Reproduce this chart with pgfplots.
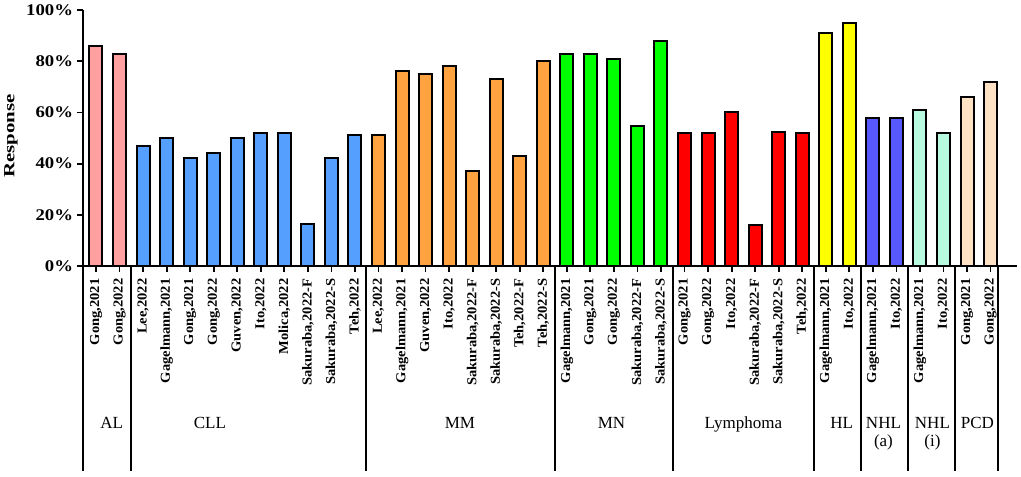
\documentclass[border=0pt]{standalone}
\usepackage{fontspec}
\setmainfont{Liberation Serif}
\newfontfamily\xtickfont[FakeStretch=1.06]{Liberation Serif}
\newfontfamily\ytickfont[FakeStretch=1.15]{Liberation Serif}
\newfontfamily\ylabfont[FakeStretch=1.35]{Liberation Serif}
\usepackage{pgfplots}
\pgfplotsset{compat=1.18}
\definecolor{cAL}{RGB}{255,160,160}
\definecolor{cCLL}{RGB}{85,160,255}
\definecolor{cMM}{RGB}{255,162,64}
\definecolor{cMN}{RGB}{0,255,0}
\definecolor{cLy}{RGB}{255,0,0}
\definecolor{cHL}{RGB}{255,255,0}
\definecolor{cNa}{RGB}{88,88,255}
\definecolor{cNi}{RGB}{184,250,224}
\definecolor{cPCD}{RGB}{255,226,196}
\begin{document}
\begin{tikzpicture}
\useasboundingbox (-82.7pt,-211pt) rectangle (938.3pt,266pt);
\begin{axis}[
  scale only axis,
  width=934pt, height=256pt,
  xmin=-0.565, xmax=39.11,
  ymin=0, ymax=100,
  axis x line=bottom, axis y line=left,
  axis line style={-, line width=2.2pt},
  clip=false,
  ybar,
  bar width=13pt,
  tick align=outside,
  major tick length=5.5pt,
  tick style={line width=1.8pt, black},
  ytick={0,20,40,60,80,100},
  yticklabels={0\%,20\%,40\%,60\%,80\%,100\%},
  yticklabel style={font=\ytickfont\bfseries\fontsize{16.3}{16.3}\selectfont, inner sep=0pt, anchor=east, xshift=-4pt},
  xtick={0,...,38},
  xticklabels={{Gong,2021},{Gong,2022},
    {Lee,2022},{Gagelmann,2021},{Gong,2021},{Gong,2022},{Guven,2022},{Ito,2022},{Molica,2022},{Sakuraba,2022-F},{Sakuraba,2022-S},{Teh,2022},
    {Lee,2022},{Gagelmann,2021},{Guven,2022},{Ito,2022},{Sakuraba,2022-F},{Sakuraba,2022-S},{Teh,2022-F},{Teh,2022-S},
    {Gagelmann,2021},{Gong,2021},{Gong,2022},{Sakuraba,2022-F},{Sakuraba,2022-S},
    {Gong,2021},{Gong,2022},{Ito,2022},{Sakuraba,2022-F},{Sakuraba,2022-S},{Teh,2022},
    {Gagelmann,2021},{Ito,2022},
    {Gagelmann,2021},{Ito,2022},
    {Gagelmann,2021},{Ito,2022},
    {Gong,2021},{Gong,2022}},
  xticklabel style={font=\xtickfont\bfseries\fontsize{13.7}{13.7}\selectfont, rotate=90, anchor=east, inner sep=0pt, xshift=-7pt},
]
\addplot[bar shift=0pt, fill=cAL, draw=black, line width=2pt] coordinates {(0,86) (1,83)};
\addplot[bar shift=0pt, fill=cCLL, draw=black, line width=2pt] coordinates {(2,47) (3,50) (4,42) (5,44) (6,50) (7,52) (8,52) (9,16.5) (10,42) (11,51)};
\addplot[bar shift=0pt, fill=cMM, draw=black, line width=2pt] coordinates {(12,51) (13,76) (14,75) (15,78) (16,37) (17,73) (18,43) (19,80)};
\addplot[bar shift=0pt, fill=cMN, draw=black, line width=2pt] coordinates {(20,83) (21,83) (22,81) (23,54.5) (24,88)};
\addplot[bar shift=0pt, fill=cLy, draw=black, line width=2pt] coordinates {(25,52) (26,52) (27,60) (28,16) (29,52.5) (30,52)};
\addplot[bar shift=0pt, fill=cHL, draw=black, line width=2pt] coordinates {(31,91) (32,95)};
\addplot[bar shift=0pt, fill=cNa, draw=black, line width=2pt] coordinates {(33,58) (34,58)};
\addplot[bar shift=0pt, fill=cNi, draw=black, line width=2pt] coordinates {(35,61) (36,52)};
\addplot[bar shift=0pt, fill=cPCD, draw=black, line width=2pt] coordinates {(37,66) (38,72)};
% group separators
\pgfplotsinvokeforeach{-0.565,1.5,11.45,19.5,24.5,30.5,32.5,34.5,36.5,38.33}{
  \draw[line width=2pt] (axis cs:#1,0) -- (axis cs:#1,-79.9);
}
% group labels
\begin{scope}[every node/.style={font=\fontsize{17}{17}\selectfont, anchor=base, inner sep=0pt}]
\node at (axis cs:0.67,-63.4) {AL};
\node at (axis cs:4.84,-63.4) {CLL};
\node at (axis cs:15.46,-63.4) {MM};
\node at (axis cs:21.9,-63.4) {MN};
\node at (axis cs:27.5,-63.4) {Lymphoma};
\node at (axis cs:31.68,-63.4) {HL};
\node at (axis cs:33.45,-63.4) {NHL};
\node at (axis cs:33.45,-70.6) {(a)};
\node at (axis cs:35.53,-63.4) {NHL};
\node at (axis cs:35.53,-70.6) {(i)};
\node at (axis cs:37.44,-63.4) {PCD};
\end{scope}
\end{axis}
\node[rotate=90, font=\ylabfont\bfseries\fontsize{15.5}{15.5}\selectfont] at (-71.7pt,130.2pt) {Response};
\end{tikzpicture}
\end{document}
